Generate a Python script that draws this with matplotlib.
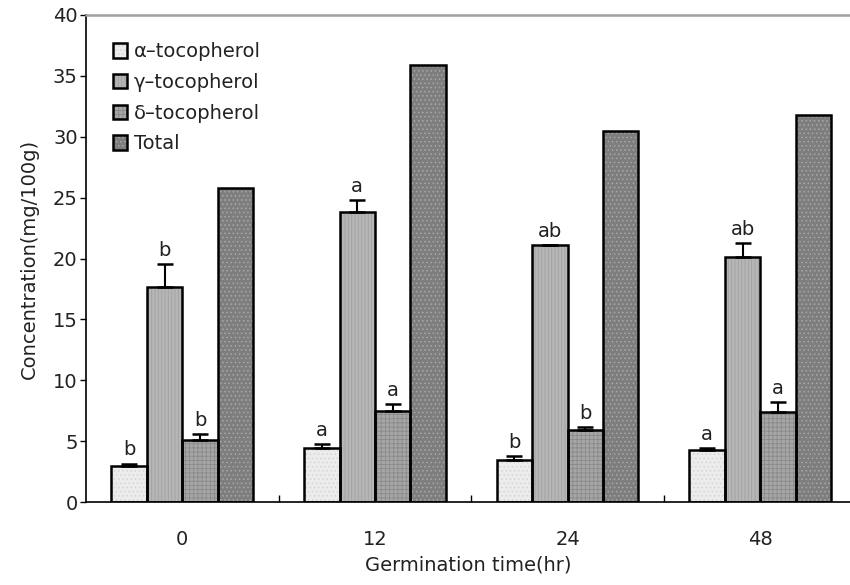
import numpy as np
import matplotlib
matplotlib.use("Agg")
import matplotlib.pyplot as plt
from matplotlib.patches import Patch
from matplotlib.legend_handler import HandlerTuple

# Tocopherol content of germinated seeds
times = ["0", "12", "24", "48"]
series = ["α–tocopherol", "γ–tocopherol", "δ–tocopherol", "Total"]

alpha = [2.96, 4.41, 3.45, 4.27]
gamma = [17.68, 23.8, 21.1, 20.15]
delta = [5.09, 7.5, 5.91, 7.37]
total = [25.8, 35.9, 30.5, 31.8]

alpha_err = [0.2, 0.35, 0.35, 0.17]
gamma_err = [1.85, 1.0, 0.0, 1.1]
delta_err = [0.5, 0.52, 0.22, 0.82]

alpha_sig = ["b", "a", "b", "a"]
gamma_sig = ["b", "a", "ab", "ab"]
delta_sig = ["b", "a", "b", "a"]

values = [alpha, gamma, delta, total]
errors = [alpha_err, gamma_err, delta_err, None]
letters = [alpha_sig, gamma_sig, delta_sig, None]

# fill colour, hatch colour, hatch pattern for each series
styles = [
    ("#ececec", "#d4d4d4", "...."),
    ("#b6b6b6", "#a2a2a2", "|||||"),
    ("#a6a6a6", "#8a8a8a", "++++"),
    ("#7e7e7e", "#a8a8a8", "...."),
]

plt.rcParams["font.family"] = "DejaVu Sans"
plt.rcParams["hatch.linewidth"] = 0.6
fs = 14
txt = "#222222"

fig = plt.figure(figsize=(8.5, 5.85), dpi=100)
ax = fig.add_axes([86 / 850, 83 / 585, 1 - 86 / 850, 487 / 585])

x = np.arange(len(times))
width = 0.184
handles = []
for i, (vals, err, sig, (fc, hc, hatch)) in enumerate(zip(values, errors, letters, styles)):
    pos = x + (i - 1.5) * width
    ax.bar(pos, vals, width, color=fc, edgecolor=hc, hatch=hatch,
           linewidth=0, zorder=2)
    ax.bar(pos, vals, width, fill=False, edgecolor="black", linewidth=1.8, zorder=3)
    if err is not None:
        ax.errorbar(pos, vals, yerr=[np.zeros(len(err)), err], fmt="none",
                    ecolor="black", elinewidth=1.5, capsize=6, capthick=1.8, zorder=4)
        for p, v, e, s in zip(pos, vals, err, sig):
            ax.annotate(s, (p, v + e), xytext=(0, 3), textcoords="offset points",
                        ha="center", va="bottom", fontsize=fs, color=txt)
    handles.append((Patch(facecolor=fc, edgecolor=hc, hatch=hatch, linewidth=0),
                    Patch(fill=False, edgecolor="black", linewidth=1.8)))

ax.set_xlim(-0.5, 3.466)
ax.set_ylim(0, 40)
ax.set_yticks(range(0, 41, 5))
ax.set_xticks(x)
ax.set_xticklabels(times)
ax.tick_params(axis="x", length=0, pad=20, labelsize=fs, labelcolor=txt)
ax.set_xticks([0.5, 1.5, 2.5], minor=True)
ax.tick_params(axis="x", which="minor", direction="in", length=5, width=1)
ax.tick_params(axis="y", direction="out", length=4, width=1, labelsize=fs,
               labelcolor=txt, pad=2)

ax.spines["right"].set_visible(False)
ax.spines["top"].set_color("#a0a0a0")
ax.spines["top"].set_linewidth(1.8)
ax.spines["left"].set_linewidth(1.2)
ax.spines["bottom"].set_linewidth(1.2)

ax.set_xlabel("Germination time(hr)", fontsize=fs, labelpad=5, color=txt)
ax.set_ylabel("Concentration(mg/100g)", fontsize=fs, labelpad=10, color=txt)

ax.legend(handles, series, handler_map={tuple: HandlerTuple(ndivide=1)},
          loc="upper left", bbox_to_anchor=(0.012, 0.98), frameon=False,
          fontsize=fs, handlelength=0.75, handleheight=0.75, handletextpad=0.35,
          labelspacing=0.6, labelcolor=txt)

fig.savefig("out.png", dpi=100)
